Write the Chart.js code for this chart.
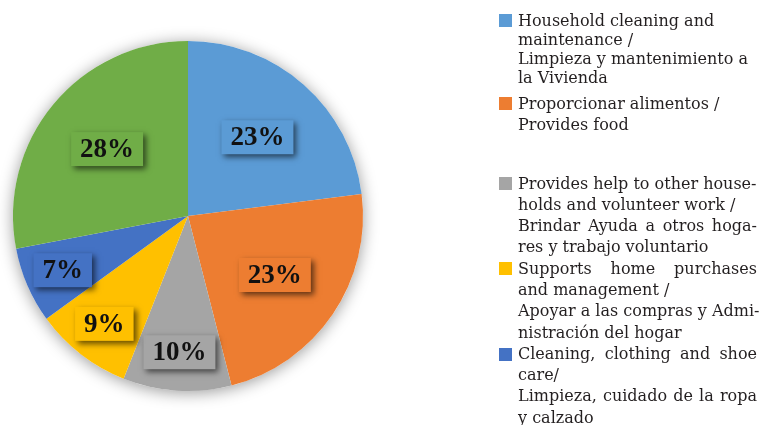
<!DOCTYPE html>
<html>
<head>
<meta charset="utf-8">
<script src="https://cdn.jsdelivr.net/npm/chart.js@4.4.0/dist/chart.umd.min.js"></script>
<style>
  html, body { margin: 0; padding: 0; background: #fff; }
  #wrap { position: relative; width: 761px; height: 425px; overflow: hidden; }
  #wrap canvas { position: absolute; left: 0; top: 0; }
  .item { position: absolute; left: 499px; width: 258px; font-family: "DejaVu Serif", serif; font-size: 16px; color: #231f20; }
  .sw { position: absolute; left: 0; width: 13px; height: 13px; }
  .line { margin-left: 19px; width: 239px; white-space: nowrap; }
  .just { white-space: normal; text-align: justify; text-align-last: justify; }
</style>
</head>
<body>
<div id="wrap">
  <canvas id="pie" width="761" height="425"></canvas>
  <div id="legend"></div>
</div>
<script>
// slice values (percent), clockwise from 12 o'clock
const values = [23, 23, 10, 9, 7, 28];
const colors = ["#5b9bd5", "#ed7d31", "#a5a5a5", "#ffc000", "#4472c4", "#70ad47"];

// legend text as printed (line breaks kept); the green slice has no legend entry
const legendLines = [
  ["Household cleaning and", "maintenance /", "Limpieza y mantenimiento a", "la Vivienda"],
  ["Proporcionar alimentos /", "Provides food"],
  ["Provides help to other house-", "holds and volunteer work /", "Brindar Ayuda a otros hoga-", "res y trabajo voluntario"],
  ["Supports home purchases", "and management /", "Apoyar a las compras y Admi-", "nistración del hogar"],
  ["Cleaning, clothing and shoe", "care/", "Limpieza, cuidado de la ropa", "y calzado"]
];
const justifiedLines = [
  "Brindar Ayuda a otros hoga-",
  "Supports home purchases",
  "Cleaning, clothing and shoe",
  "Limpieza, cuidado de la ropa"
];
const categories = legendLines.map(l => l.join(" ")).concat([""]);

// html legend
const itemTop = [10.5, 92.5, 172.5, 257.7, 342.9];
const lineH = [19, 21, 21.3, 21.3, 21.3];
const legend = document.getElementById("legend");
legendLines.forEach((lines, i) => {
  const item = document.createElement("div");
  item.className = "item";
  item.style.top = itemTop[i] + "px";
  item.style.lineHeight = lineH[i] + "px";
  const sw = document.createElement("div");
  sw.className = "sw";
  sw.style.background = colors[i];
  sw.style.top = (lineH[i] / 2 - 6) + "px";
  item.appendChild(sw);
  lines.forEach(t => {
    const d = document.createElement("div");
    d.className = justifiedLines.includes(t) ? "line just" : "line";
    d.textContent = t;
    item.appendChild(d);
  });
  legend.appendChild(item);
});

// soft shadow under the whole pie
const pieShadow = {
  id: "pieShadow",
  beforeDatasetsDraw(chart) {
    const arc = chart.getDatasetMeta(0).data[0];
    if (!arc) return;
    const ctx = chart.ctx;
    ctx.save();
    ctx.shadowColor = "rgba(0,0,0,0.4)";
    ctx.shadowBlur = 16;
    ctx.shadowOffsetY = 2;
    ctx.fillStyle = "#fff";
    ctx.beginPath();
    ctx.arc(arc.x, arc.y, arc.outerRadius, 0, Math.PI * 2);
    ctx.fill();
    ctx.restore();
  }
};

// percentage labels in boxes with drop shadow
const labelBoxes = {
  id: "labelBoxes",
  afterDatasetsDraw(chart) {
    const ctx = chart.ctx;
    const ds = chart.data.datasets[0];
    ctx.save();
    ctx.font = 'bold 27px "Liberation Serif"';
    ctx.textAlign = "center";
    ctx.textBaseline = "middle";
    chart.getDatasetMeta(0).data.forEach((arc, i) => {
      const p = arc.getProps(["x", "y", "startAngle", "endAngle", "outerRadius"], true);
      const mid = (p.startAngle + p.endAngle) / 2;
      const f = ds.data[i] <= 10 ? 0.78 : 0.6;
      const x = p.x + Math.cos(mid) * p.outerRadius * f;
      const y = p.y + Math.sin(mid) * p.outerRadius * f;
      const text = ds.data[i] + "%";
      const w = ctx.measureText(text).width + 18, h = 34;
      ctx.shadowColor = "rgba(0,0,0,0.6)";
      ctx.shadowBlur = 6;
      ctx.shadowOffsetX = 3;
      ctx.shadowOffsetY = 3;
      ctx.fillStyle = ds.backgroundColor[i];
      ctx.fillRect(x - w / 2, y - h / 2, w, h);
      ctx.shadowColor = "transparent";
      ctx.fillStyle = "#111";
      ctx.fillText(text, x, y + 1);
    });
    ctx.restore();
  }
};

new Chart(document.getElementById("pie"), {
  type: "pie",
  data: {
    labels: categories,
    datasets: [{
      data: values,
      backgroundColor: colors,
      borderWidth: 0
    }]
  },
  options: {
    responsive: false,
    devicePixelRatio: 1,
    animation: false,
    layout: { padding: { left: 13, top: 41, right: 398, bottom: 34 } },
    plugins: {
      legend: { display: false },
      tooltip: { enabled: false }
    }
  },
  plugins: [pieShadow, labelBoxes]
});
</script>
</body>
</html>
